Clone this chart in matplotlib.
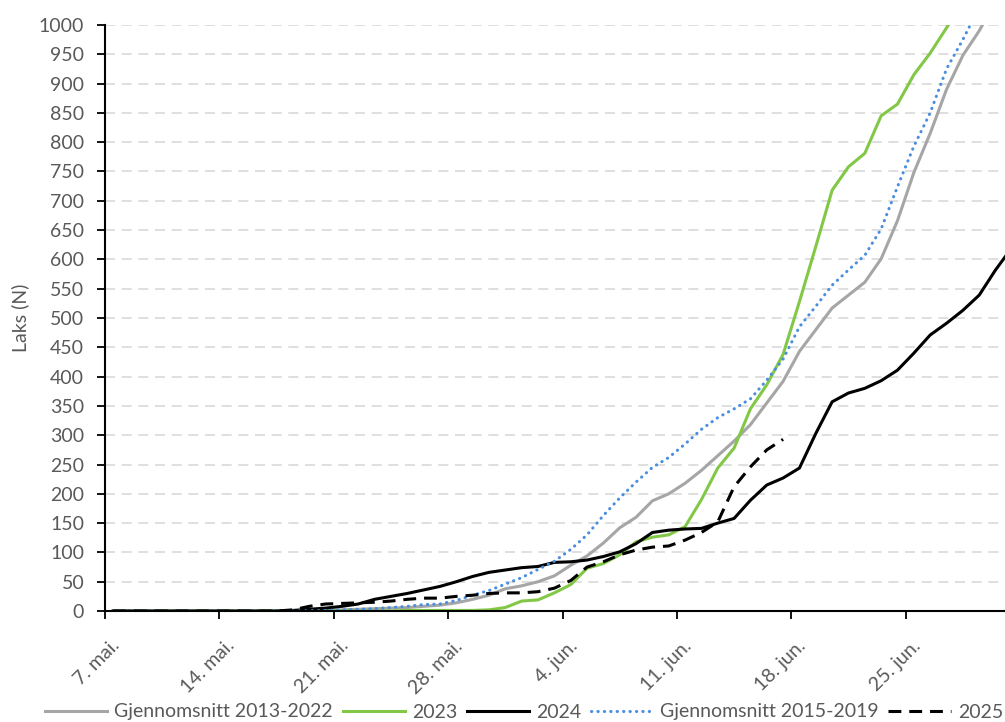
import numpy as np
import matplotlib
matplotlib.use("Agg")
import matplotlib.pyplot as plt
import matplotlib.transforms as mtransforms

plt.rcParams['font.family'] = ['Lato', 'DejaVu Sans']

# Dager fra 7. mai (indeks 0) til 1. juli (indeks 55)
antall_dager = 56
tick_dager = [0, 7, 14, 21, 28, 35, 42, 49]
tick_tekst = ['7. mai.', '14. mai.', '21. mai.', '28. mai.',
              '4. jun.', '11. jun.', '18. jun.', '25. jun.']

snitt_2013_2022 = [0, 0, 0, 0, 0, 0, 0, 0, 0, 0, 0, 0, 0, 1, 2, 3, 4, 5, 6, 8,
                   10, 14, 20, 27, 38, 43, 50, 60, 78, 94, 116, 142, 160, 188,
                   200, 218, 240, 265, 290, 318, 355, 392, 443, 480, 517, 539,
                   561, 601, 666, 748, 815, 890, 948, 990, 1040]
aar_2023 = [0, 0, 0, 0, 0, 0, 0, 0, 0, 0, 0, 0, 0, 0, 0, 0, 0, 0, 1, 1,
            1, 1, 1, 2, 6, 17, 19, 31, 45, 73, 81, 96, 118, 126, 130, 144,
            190, 244, 278, 345, 386, 438, 528, 622, 718, 758, 781, 845, 865,
            915, 952, 995, 1040]
aar_2024 = [0, 0, 0, 0, 0, 0, 0, 0, 0, 0, 0, 1, 3, 5, 8, 12, 20, 25, 30, 36,
            42, 50, 59, 66, 70, 74, 76, 83, 84, 87, 93, 101, 115, 134, 138,
            140, 141, 150, 158, 189, 215, 227, 244, 303, 357, 372, 380, 393,
            411, 440, 471, 491, 513, 539, 582, 620]
snitt_2015_2019 = [0, 0, 0, 0, 0, 0, 0, 0, 0, 0, 0, 0, 0.5, 1, 2, 3, 4, 6, 8,
                   11, 12, 18, 27, 35, 46, 57, 71, 85, 105, 130, 163, 193, 220,
                   245, 262, 285, 310, 330, 345, 362, 394, 430, 485, 520, 556,
                   582, 607, 652, 724, 793, 850, 925, 975, 1030]
aar_2025 = [0, 0, 0, 0, 0, 0, 0, 0, 0, 0, 0, 2, 8, 12, 13, 14, 15, 17, 20, 22,
            22, 25, 27, 30, 31, 31, 33, 39, 52, 75, 84, 96, 104, 109, 111, 121,
            134, 152, 212, 246, 275, 293]

x = np.arange(antall_dager) + 0.5

fig = plt.figure(figsize=(10.05, 7.22), dpi=100)
ax = fig.add_axes([0.1045, 0.1537, 0.8955, 0.8117])

ax.plot(x[:len(snitt_2013_2022)], snitt_2013_2022, color='#a6a6a6', lw=2.2,
        solid_joinstyle='round', label='Gjennomsnitt 2013-2022')
ax.plot(x[:len(aar_2023)], aar_2023, color='#82c846', lw=2.2,
        solid_joinstyle='round', label='2023')
ax.plot(x[:len(aar_2024)], aar_2024, color='black', lw=2.2,
        solid_joinstyle='round', label='2024')
ax.plot(x[:len(snitt_2015_2019)], snitt_2015_2019, color='#4a8ee0', lw=2.2,
        linestyle=(0, (0.1, 2.0)), dash_capstyle='round',
        label='Gjennomsnitt 2015-2019')
ax.plot(x[:len(aar_2025)], aar_2025, color='black', lw=2.2,
        linestyle=(0, (4.2, 2.6)), label='2025')

ax.set_xlim(0, 55.08)
ax.set_ylim(0, 1000)
ax.set_yticks(np.arange(0, 1001, 50))
ax.set_xticks(tick_dager)
ax.set_xticklabels(tick_tekst, rotation=45, ha='right', va='center',
                   rotation_mode='anchor')
ax.tick_params(axis='both', direction='out', length=6, width=1.3,
               color='black', labelcolor='#595959', labelsize=14)
ax.tick_params(axis='x', pad=17)
ax.tick_params(axis='y', pad=9)
offset = mtransforms.ScaledTranslation(12 / 100, 0, fig.dpi_scale_trans)
for lab in ax.get_xticklabels():
    lab.set_transform(lab.get_transform() + offset)

ax.grid(axis='y', color='#d9d9d9', lw=1.2, linestyle=(0, (6, 4)))
ax.set_axisbelow(True)
for s in ['top', 'right']:
    ax.spines[s].set_visible(False)
for s in ['left', 'bottom']:
    ax.spines[s].set_linewidth(1.5)
    ax.spines[s].set_color('black')
    ax.spines[s].set_zorder(5)

ax.set_ylabel('Laks (N)', color='#595959', fontsize=14)
ax.yaxis.set_label_coords(-0.084, 0.5)

leg = fig.legend(loc='center', bbox_to_anchor=(0.5214, 1 - 712 / 722),
                 ncol=5, frameon=False, fontsize=14, handlelength=3.2,
                 handletextpad=0.36, columnspacing=0.5, borderaxespad=0,
                 borderpad=0)
for t in leg.get_texts():
    t.set_color('#595959')

fig.savefig('out.png', dpi=100)
